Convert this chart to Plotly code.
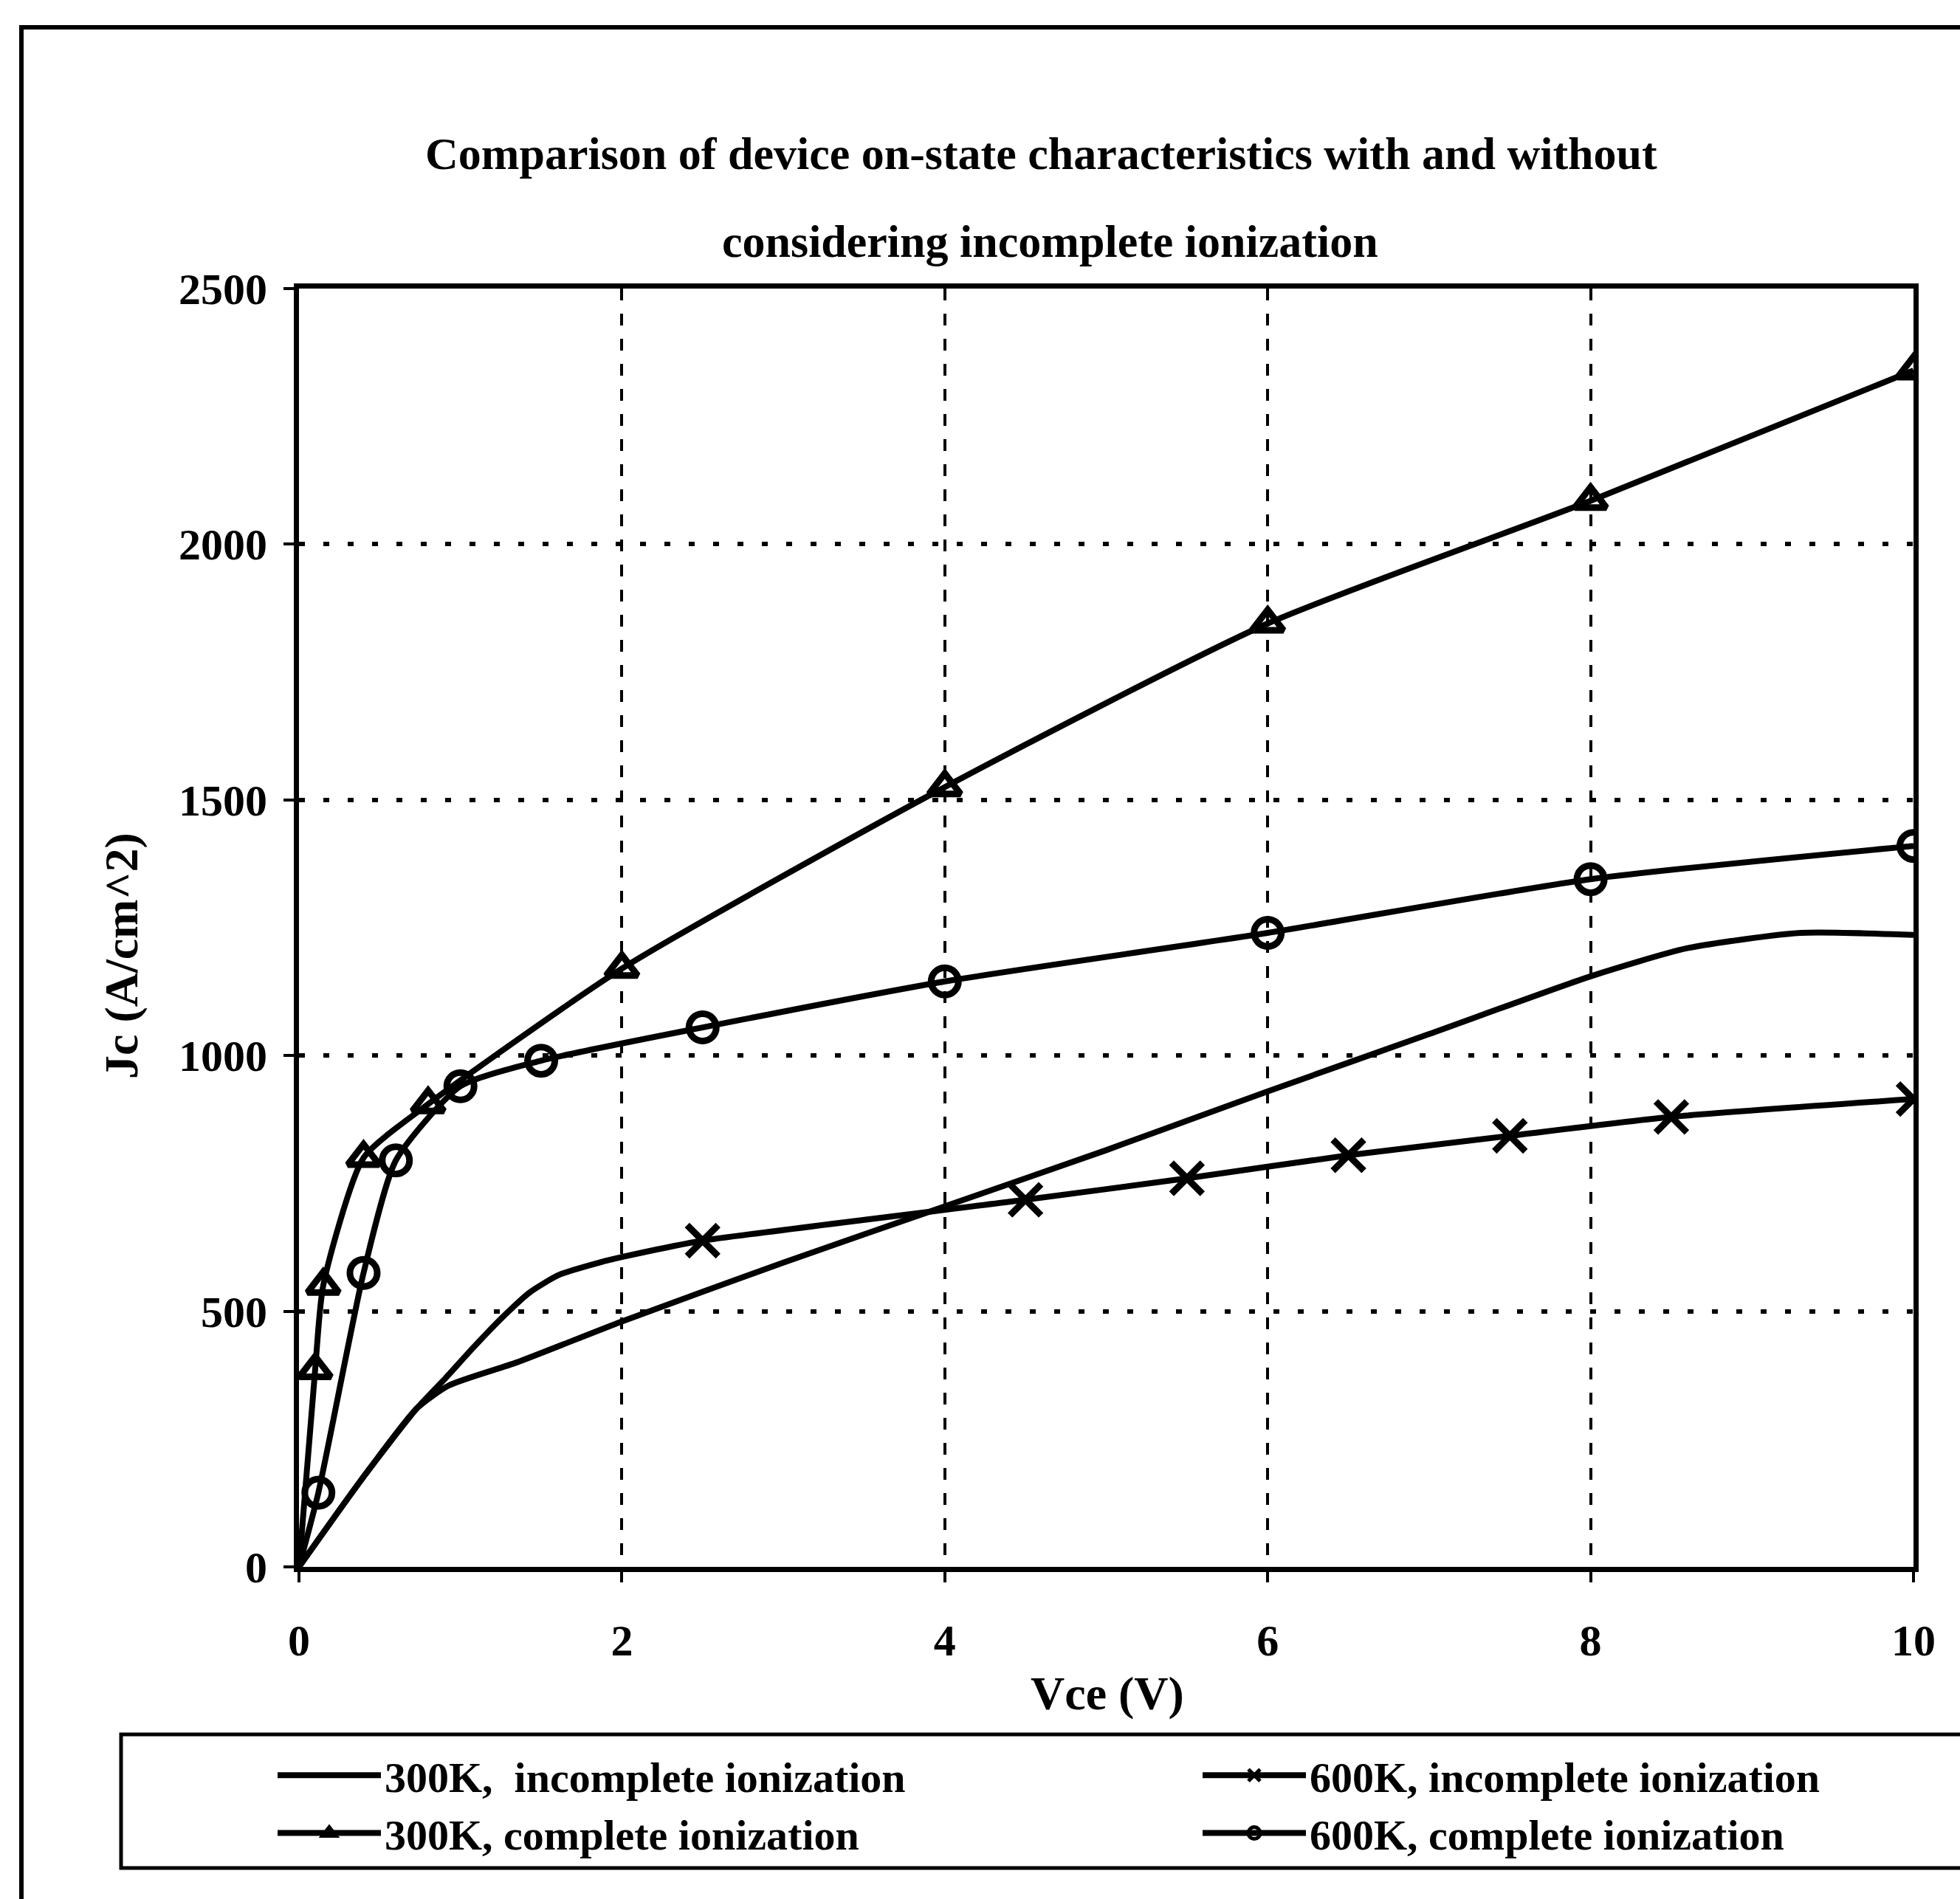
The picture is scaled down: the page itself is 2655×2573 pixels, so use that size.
import plotly.graph_objects as go

# Collector current density Jc (A/cm^2) versus collector-emitter voltage Vce (V)
vce_300_incomplete = [0, 0.39, 0.73, 0.93, 1.35, 2.0, 3.0, 4.0, 5.0, 6.0, 7.0, 8.0, 8.6, 9.3, 10]
jc_300_incomplete = [0, 172, 310, 355, 400, 480, 595, 705, 815, 930, 1042, 1155, 1210, 1240, 1236]

vce_600_incomplete = [0, 0.39, 0.73, 0.91, 1.08, 1.26, 1.43, 1.61, 1.87, 2.0, 2.22,
                      2.5, 4.5, 5.5, 6.5, 7.5, 8.5, 10]
jc_600_incomplete = [0, 172, 310, 370, 429, 488, 537, 571, 596, 606, 621,
                     638, 718, 760, 805, 843, 880, 915]
marked_600_incomplete = [False] * 11 + [True] * 7

vce_300_complete = [0, 0.1, 0.15, 0.4, 0.8, 2, 4, 6, 8, 10]
jc_300_complete = [0, 385, 550, 800, 905, 1170, 1525, 1845, 2085, 2340]

vce_600_complete = [0, 0.12, 0.4, 0.6, 1.0, 1.5, 2.5, 4, 6, 8, 10]
jc_600_complete = [0, 145, 575, 795, 940, 990, 1055, 1145, 1240, 1345, 1410]

x_ticks = [0, 2, 4, 6, 8, 10]
y_ticks = [0, 500, 1000, 1500, 2000, 2500]

title_line1 = "Comparison of device on-state characteristics with and without"
title_line2 = "considering incomplete ionization"

FONT = "Liberation Serif"
BLACK = "black"
W, H = 2655, 2573
L, R, T, B = 405, 63, 391, 450
PW, PH = W - L - R, H - T - B


def px_x(p):
    return (p - L) / PW


def px_y(p):
    return (H - B - p) / PH


def sizes(flags, size):
    return [size if f else 0 for f in flags]


fig = go.Figure()

line_style = dict(color=BLACK, width=8, shape="spline", smoothing=0.6)

fig.add_trace(go.Scatter(
    x=vce_300_incomplete, y=jc_300_incomplete, mode="lines",
    name="300K,  incomplete ionization", line=line_style,
    legend="legend", legendgroup="a",
))
fig.add_trace(go.Scatter(
    x=vce_300_complete, y=jc_300_complete, mode="lines+markers",
    name="300K, complete ionization", line=line_style,
    marker=dict(symbol="triangle-up-open", opacity=1,
                size=[0] + [37] * (len(vce_300_complete) - 1),
                color=BLACK, line=dict(color=BLACK, width=9)),
    legend="legend", legendgroup="b",
))
fig.add_trace(go.Scatter(
    x=vce_600_incomplete, y=jc_600_incomplete, mode="lines+markers",
    name="600K, incomplete ionization", line=line_style,
    marker=dict(symbol="x-thin-open", opacity=1,
                size=sizes(marked_600_incomplete, 42),
                color=BLACK, line=dict(color=BLACK, width=9)),
    legend="legend2", legendgroup="c",
))
fig.add_trace(go.Scatter(
    x=vce_600_complete, y=jc_600_complete, mode="lines+markers",
    name="600K, complete ionization", line=line_style,
    marker=dict(symbol="circle-open", opacity=1,
                size=[0] + [37] * (len(vce_600_complete) - 1),
                color=BLACK, line=dict(color=BLACK, width=9)),
    legend="legend2", legendgroup="d",
))

axis_common = dict(
    showline=True, mirror=True, linecolor=BLACK, linewidth=7,
    ticks="outside", ticklen=14, tickwidth=4, tickcolor=BLACK,
    tickfont=dict(family=FONT, size=60, color=BLACK, weight="bold"),
    showgrid=True, gridcolor=BLACK, zeroline=False,
)

fig.update_xaxes(
    range=[0, 10], tickvals=x_ticks, ticktext=[str(v) for v in x_ticks],
    griddash="16px,18px", gridwidth=4, ticklabelstandoff=27, **axis_common,
)
fig.update_yaxes(
    range=[0, 2500], tickvals=y_ticks, ticktext=[str(v) for v in y_ticks],
    griddash="8px,25px", gridwidth=6, ticklabelstandoff=10, **axis_common,
)

text_font = dict(family=FONT, size=62, color=BLACK, weight="bold")

annotations = [
    dict(text=title_line1, x=px_x(1410), y=px_y(208), xref="paper", yref="paper",
         xanchor="center", yanchor="middle", showarrow=False, font=text_font),
    dict(text=title_line2, x=px_x(1422), y=px_y(327), xref="paper", yref="paper",
         xanchor="center", yanchor="middle", showarrow=False, font=text_font),
    dict(text="Vce (V)", x=px_x(1500), y=px_y(2294), xref="paper", yref="paper",
         xanchor="center", yanchor="middle", showarrow=False,
         font=dict(family=FONT, size=64, color=BLACK, weight="bold")),
    dict(text="Jc (A/cm^2)", x=px_x(164), y=px_y(1295), xref="paper", yref="paper",
         xanchor="center", yanchor="middle", textangle=-90, showarrow=False,
         font=dict(family=FONT, size=64, color=BLACK, weight="bold")),
]

shapes = [
    # outer frame
    dict(type="rect", xref="paper", yref="paper",
         x0=px_x(29), x1=px_x(2800), y0=px_y(2700), y1=px_y(37),
         line=dict(color=BLACK, width=6), layer="below"),
    # legend box
    dict(type="rect", xref="paper", yref="paper",
         x0=px_x(164), x1=px_x(2720), y0=px_y(2531), y1=px_y(2350),
         line=dict(color=BLACK, width=5), layer="below"),
]

legend_common = dict(
    orientation="v", xanchor="left", yanchor="top", itemwidth=140,
    font=dict(family=FONT, size=58, color=BLACK, weight="bold"),
    bgcolor="rgba(0,0,0,0)", borderwidth=0, traceorder="normal",
    tracegroupgap=7,
)

fig.update_layout(
    width=W, height=H,
    margin=dict(l=L, r=R, t=T, b=B),
    paper_bgcolor="white", plot_bgcolor="white",
    font=dict(family=FONT, color=BLACK, weight="bold"),
    showlegend=True,
    legend=dict(x=px_x(371), y=px_y(2361), **legend_common),
    legend2=dict(x=px_x(1624), y=px_y(2361), **legend_common),
    annotations=annotations,
    shapes=shapes,
)

fig.write_html("out.html")
